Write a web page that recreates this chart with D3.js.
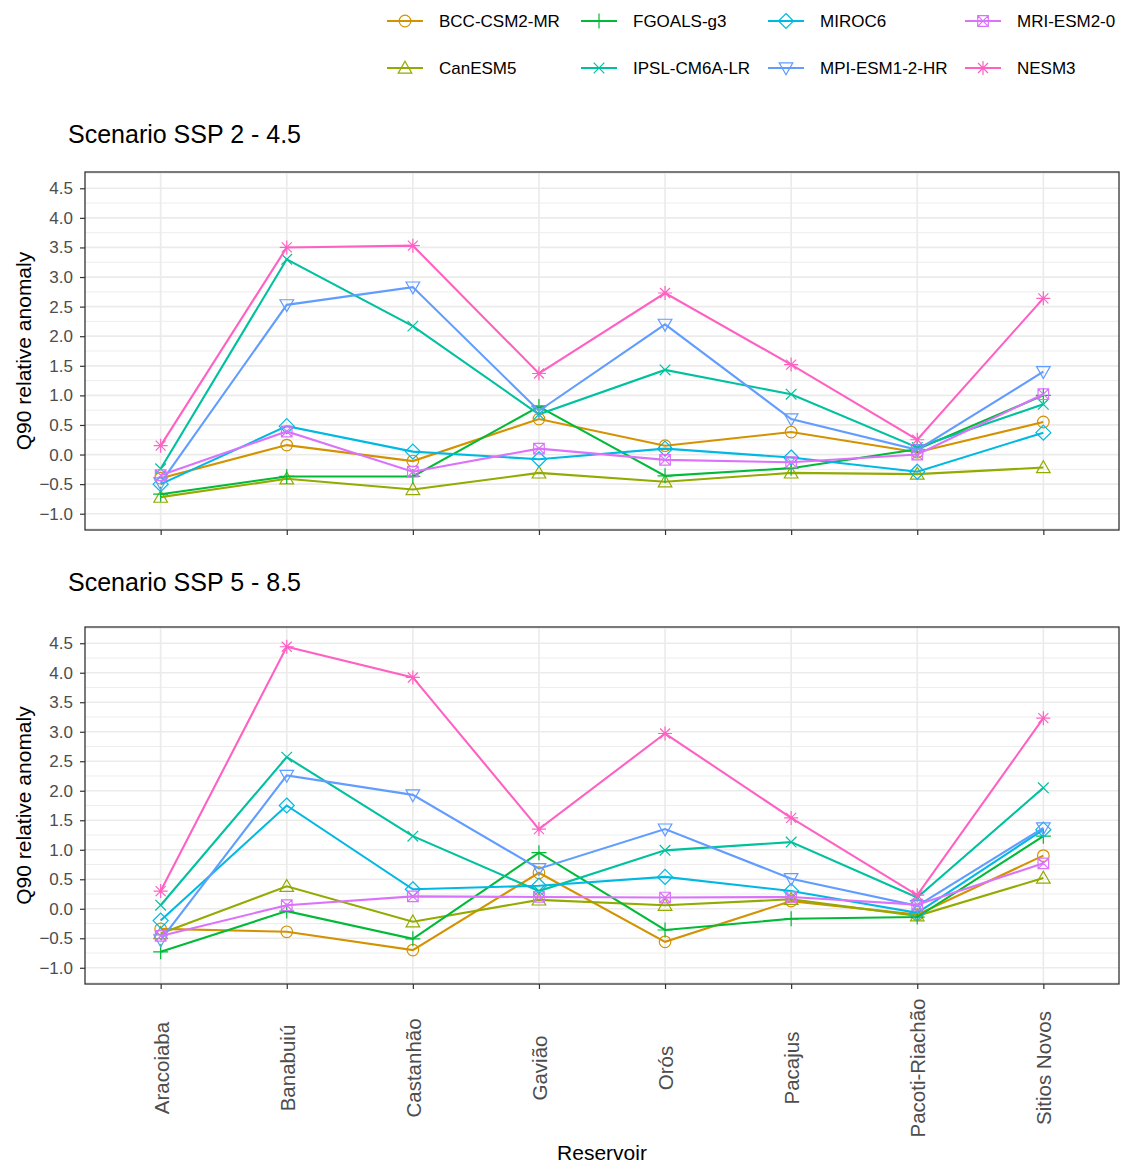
<!DOCTYPE html>
<html>
<head>
<meta charset="utf-8">
<script src="https://cdn.jsdelivr.net/npm/d3@7"></script>
<style>
  body { margin: 0; background: #fff; }
  svg text { font-family: "Liberation Sans", Arial, sans-serif; }
</style>
</head>
<body>
<div id="chart"></div>
<script>
// reservoirs on the x axis
var reservoirs = ['Aracoiaba', 'Banabuiú', 'Castanhão', 'Gavião', 'Orós', 'Pacajus', 'Pacoti-Riachão', 'Sitios Novos'];
var models = ['BCC-CSM2-MR', 'CanESM5', 'FGOALS-g3', 'IPSL-CM6A-LR', 'MIROC6', 'MPI-ESM1-2-HR', 'MRI-ESM2-0', 'NESM3'];
var colors = ['#D39200', '#93AA00', '#00BA38', '#00C19F', '#00B9E3', '#619CFF', '#DB72FB', '#FF61C3'];
var shapes = [1, 2, 3, 4, 5, 6, 7, 8];
var yTicks = [-1.0, -0.5, 0.0, 0.5, 1.0, 1.5, 2.0, 2.5, 3.0, 3.5, 4.0, 4.5];
var yMinor = [-1.25, -0.75, -0.25, 0.25, 0.75, 1.25, 1.75, 2.25, 2.75, 3.25, 3.75, 4.25, 4.75];

// one row per model, same order as models
var ssp245 = [
	[-0.40, 0.16, -0.11, 0.60, 0.15, 0.38, 0.04, 0.55],
	[-0.72, -0.41, -0.59, -0.31, -0.46, -0.31, -0.33, -0.22],
	[-0.67, -0.37, -0.37, 0.81, -0.36, -0.23, 0.09, 1.00],
	[-0.24, 3.30, 2.17, 0.68, 1.43, 1.02, 0.12, 0.85],
	[-0.50, 0.48, 0.05, -0.08, 0.10, -0.05, -0.29, 0.37],
	[-0.48, 2.53, 2.83, 0.74, 2.20, 0.60, 0.08, 1.40],
	[-0.35, 0.39, -0.29, 0.10, -0.09, -0.13, 0.00, 1.02],
	[0.15, 3.50, 3.53, 1.37, 2.73, 1.52, 0.25, 2.64]
];
var ssp585 = [
	[-0.34, -0.39, -0.70, 0.61, -0.56, 0.13, -0.10, 0.90],
	[-0.42, 0.38, -0.22, 0.15, 0.06, 0.16, -0.12, 0.52],
	[-0.73, -0.04, -0.51, 0.95, -0.36, -0.17, -0.14, 1.23],
	[0.06, 2.57, 1.23, 0.30, 0.99, 1.13, 0.19, 2.05],
	[-0.20, 1.75, 0.33, 0.39, 0.54, 0.30, -0.07, 1.34],
	[-0.53, 2.26, 1.93, 0.68, 1.35, 0.51, 0.05, 1.37],
	[-0.46, 0.06, 0.21, 0.20, 0.19, 0.20, 0.07, 0.77],
	[0.30, 4.44, 3.92, 1.35, 2.97, 1.54, 0.23, 3.23]
];
var panels = [
	{title: 'Scenario SSP 2 - 4.5', data: ssp245, top: 172, bottom: 530, titleY: 143},
	{title: 'Scenario SSP 5 - 8.5', data: ssp585, top: 627, bottom: 984, titleY: 591}
];

var W = 1123, H = 1164;
var left = 85, right = 1119;

var svg = d3.select('#chart').append('svg')
	.attr('width', W)
	.attr('height', H);

// R style point shapes
function shapePath(s, cx, cy){
	var p = d3.path();
	var r = 5.8;
	if(s==1){
		p.arc(cx, cy, r, 0, 2*Math.PI);
	} else if(s==2 || s==6){
		var h = 6.8, dir = (s==2) ? 1 : -1;
		p.moveTo(cx, cy - dir*h);
		p.lineTo(cx + h*1.0, cy + dir*h*0.75);
		p.lineTo(cx - h*1.0, cy + dir*h*0.75);
		p.closePath();
	} else if(s==3){
		p.moveTo(cx-7.5, cy); p.lineTo(cx+7.5, cy);
		p.moveTo(cx, cy-7.5); p.lineTo(cx, cy+7.5);
	} else if(s==4){
		p.moveTo(cx-5.3, cy-5.3); p.lineTo(cx+5.3, cy+5.3);
		p.moveTo(cx-5.3, cy+5.3); p.lineTo(cx+5.3, cy-5.3);
	} else if(s==5){
		p.moveTo(cx, cy-7.5); p.lineTo(cx+7.5, cy); p.lineTo(cx, cy+7.5); p.lineTo(cx-7.5, cy); p.closePath();
	} else if(s==7){
		p.rect(cx-5.3, cy-5.3, 10.6, 10.6);
		p.moveTo(cx-5.3, cy-5.3); p.lineTo(cx+5.3, cy+5.3);
		p.moveTo(cx-5.3, cy+5.3); p.lineTo(cx+5.3, cy-5.3);
	} else if(s==8){
		p.moveTo(cx-7, cy); p.lineTo(cx+7, cy);
		p.moveTo(cx, cy-7); p.lineTo(cx, cy+7);
		p.moveTo(cx-5, cy-5); p.lineTo(cx+5, cy+5);
		p.moveTo(cx-5, cy+5); p.lineTo(cx+5, cy-5);
	}
	return p.toString();
}

var x = d3.scalePoint()
	.domain(reservoirs)
	.range([left, right])
	.padding(0.6);

panels.forEach(function(pn, pi){
	var y = d3.scaleLinear()
		.domain([-1.275, 4.775])
		.range([pn.bottom, pn.top]);

	var g = svg.append('g');

	// grid
	g.selectAll('.minor')
		.data(yMinor)
		.enter()
		.append('line')
		.attr('x1', left).attr('x2', right)
		.attr('y1', function(d){ return y(d); })
		.attr('y2', function(d){ return y(d); })
		.attr('stroke', '#EBEBEB')
		.attr('stroke-width', 0.9);
	g.selectAll('.major')
		.data(yTicks)
		.enter()
		.append('line')
		.attr('x1', left).attr('x2', right)
		.attr('y1', function(d){ return y(d); })
		.attr('y2', function(d){ return y(d); })
		.attr('stroke', '#EBEBEB')
		.attr('stroke-width', 1.7);
	g.selectAll('.vgrid')
		.data(reservoirs)
		.enter()
		.append('line')
		.attr('x1', function(d){ return x(d); })
		.attr('x2', function(d){ return x(d); })
		.attr('y1', pn.top).attr('y2', pn.bottom)
		.attr('stroke', '#EBEBEB')
		.attr('stroke-width', 1.7);

	// y axis
	var yAxis = d3.axisLeft(y)
		.tickValues(yTicks)
		.tickSize(5)
		.tickPadding(7)
		.tickFormat(d3.format('.1f'));
	var ya = svg.append('g')
		.attr('transform', 'translate(' + left + ',0)')
		.call(yAxis);
	ya.select('.domain').remove();
	ya.selectAll('line').attr('stroke', '#333333').attr('stroke-width', 1.2);
	ya.selectAll('text')
		.attr('fill', '#4D4D4D')
		.style('font-size', '17px')
		.style('font-family', '"Liberation Sans", Arial, sans-serif');

	// x axis ticks
	var xAxis = d3.axisBottom(x).tickSize(5).tickSizeOuter(0);
	var xa = svg.append('g')
		.attr('transform', 'translate(0,' + pn.bottom + ')')
		.call(xAxis);
	xa.select('.domain').remove();
	xa.selectAll('line').attr('stroke', '#333333').attr('stroke-width', 1.2);
	if(pi==0){
		xa.selectAll('text').remove();
	} else {
		xa.selectAll('text')
			.attr('fill', '#4D4D4D')
			.style('font-size', '20.5px')
			.style('font-family', '"Liberation Sans", Arial, sans-serif')
			.attr('text-anchor', 'middle')
			.attr('dy', null)
			.attr('y', null)
			.attr('dominant-baseline', 'central')
			.attr('transform', function(d){ return 'translate(0,' + (1068 - pn.bottom) + ') rotate(-90)'; });
	}

	// lines and points
	var line = d3.line()
		.x(function(d, i){ return x(reservoirs[i]); })
		.y(function(d){ return y(d); });

	pn.data.forEach(function(vals, m){
		g.append('path')
			.attr('d', line(vals))
			.attr('fill', 'none')
			.attr('stroke', colors[m])
			.attr('stroke-width', 2.1);
		g.selectAll('.pt' + m)
			.data(vals)
			.enter()
			.append('path')
			.attr('d', function(d, i){ return shapePath(shapes[m], x(reservoirs[i]), y(d)); })
			.attr('fill', 'none')
			.attr('stroke', colors[m])
			.attr('stroke-width', 1.2);
	});

	// panel border
	svg.append('rect')
		.attr('x', left).attr('y', pn.top)
		.attr('width', right - left).attr('height', pn.bottom - pn.top)
		.attr('fill', 'none')
		.attr('stroke', '#333333')
		.attr('stroke-width', 1.3);

	// titles
	svg.append('text')
		.attr('x', 68).attr('y', pn.titleY)
		.style('font-size', '25px')
		.attr('fill', '#000')
		.text(pn.title);
	svg.append('text')
		.attr('transform', 'translate(31,' + ((pn.top + pn.bottom)/2) + ') rotate(-90)')
		.attr('text-anchor', 'middle')
		.style('font-size', '21px')
		.attr('fill', '#000')
		.text('Q90 relative anomaly');
});

svg.append('text')
	.attr('x', (left + right)/2).attr('y', 1160)
	.attr('text-anchor', 'middle')
	.style('font-size', '21px')
	.attr('fill', '#000')
	.text('Reservoir');

// legend, 2 rows filled column by column
var legendCols = [405, 599, 786, 983];
var legendRows = [21, 68];
var leg = svg.selectAll('.legend')
	.data(models)
	.enter()
	.append('g')
	.attr('transform', function(d, i){
		return 'translate(' + legendCols[Math.floor(i/2)] + ',' + legendRows[i%2] + ')';
	});
leg.append('line')
	.attr('x1', -18).attr('x2', 18)
	.attr('y1', 0).attr('y2', 0)
	.attr('stroke', function(d, i){ return colors[i]; })
	.attr('stroke-width', 2.1);
leg.append('path')
	.attr('d', function(d, i){ return shapePath(shapes[i], 0, 0); })
	.attr('fill', 'none')
	.attr('stroke', function(d, i){ return colors[i]; })
	.attr('stroke-width', 1.2);
leg.append('text')
	.attr('x', 34)
	.attr('y', 0)
	.attr('dominant-baseline', 'central')
	.style('font-size', '17px')
	.attr('fill', '#000')
	.text(function(d){ return d; });
</script>
</body>
</html>
